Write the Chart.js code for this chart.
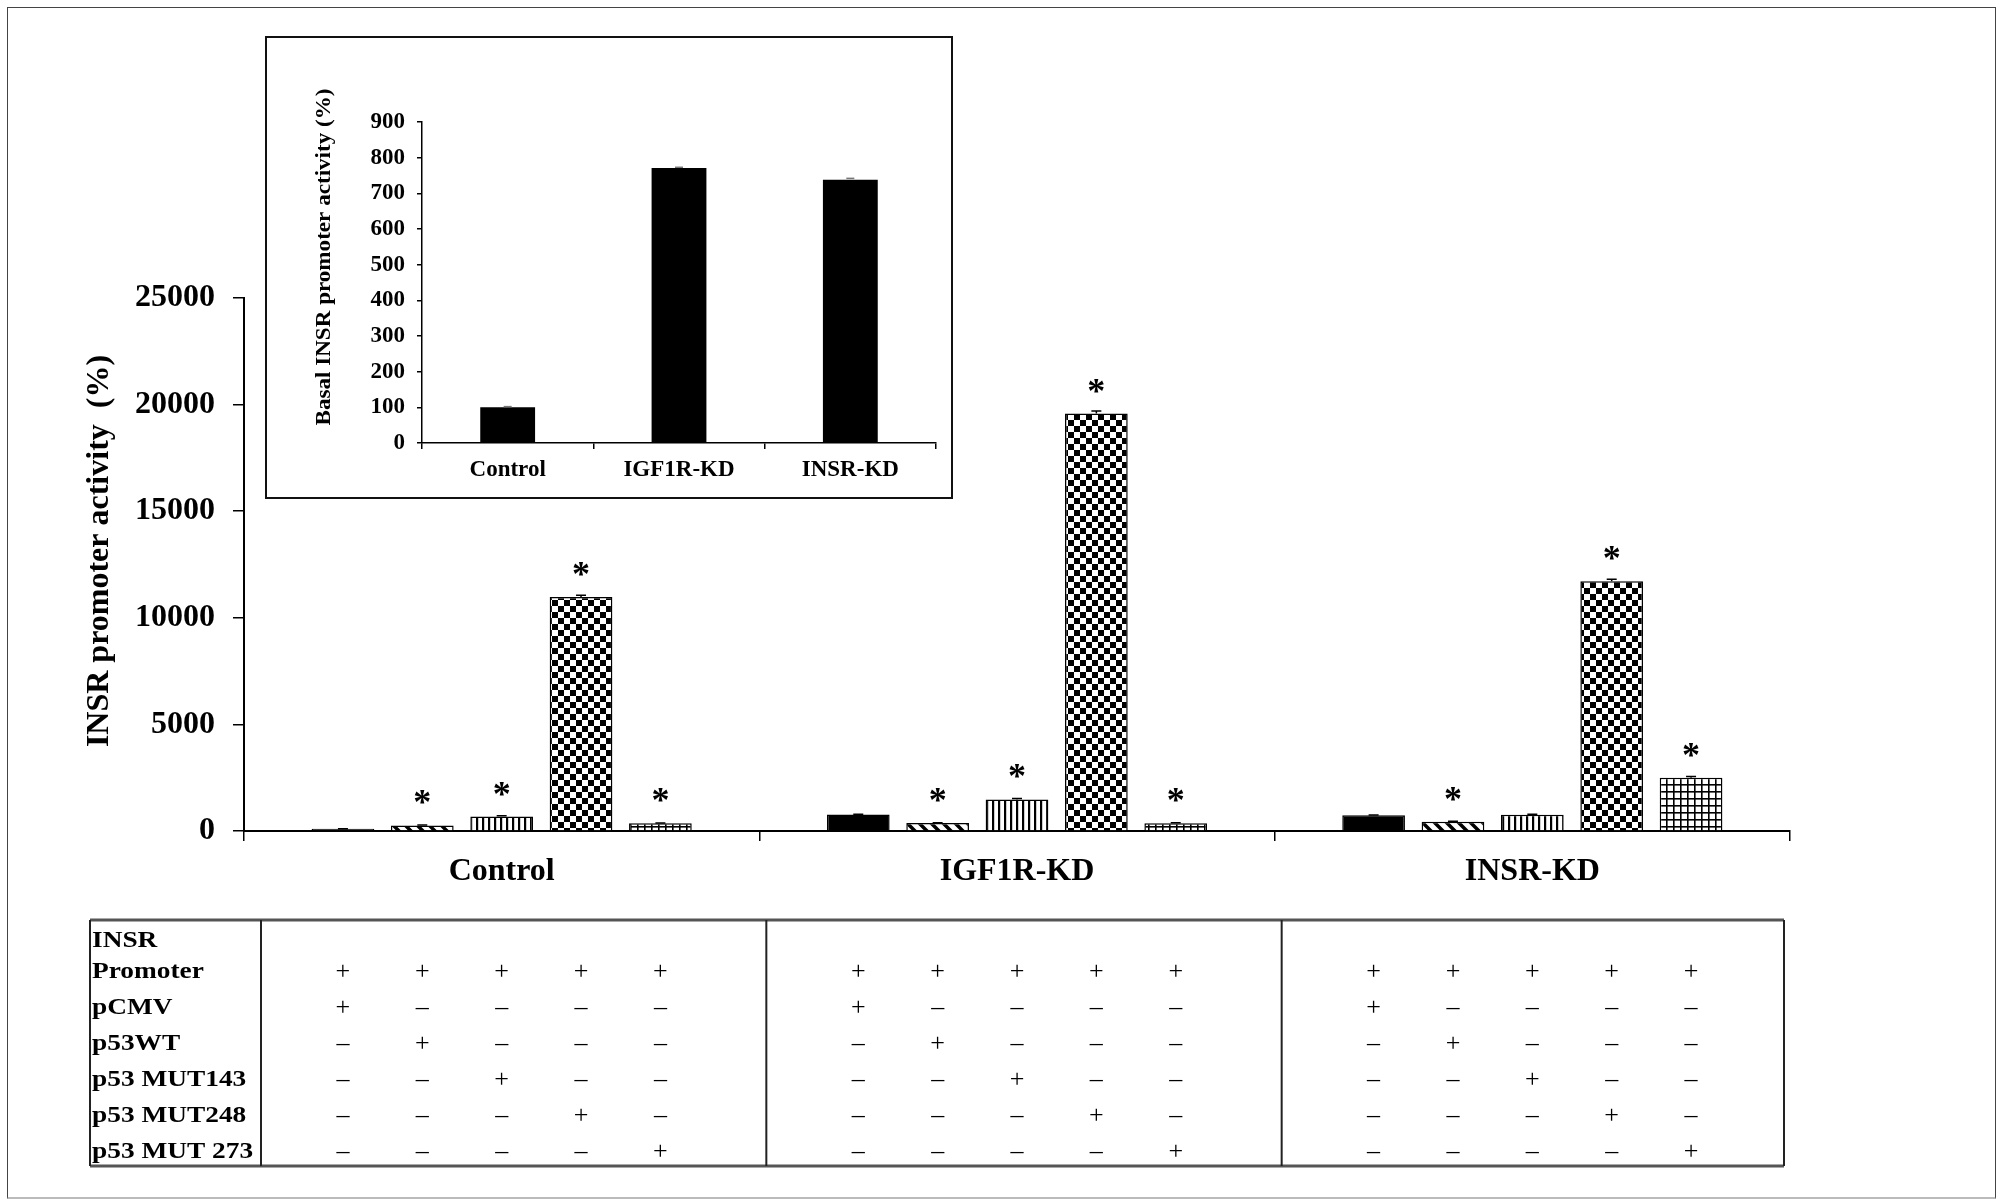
<!DOCTYPE html>
<html>
<head>
<meta charset="utf-8">
<script src="https://cdn.jsdelivr.net/npm/chart.js@4.4.1/dist/chart.umd.min.js"></script>
<style>
  body { margin: 0; background: #fff; }
  #frame { position: absolute; left: 7px; top: 7px; width: 1987px; height: 1189px;
           border: 1.5px solid #444; border-bottom: 2px solid #bbb; }
  #main { position: absolute; left: 0; top: 0; }
  #inset { position: absolute; left: 265px; top: 36px; }
</style>
</head>
<body>
<div id="frame"></div>
<canvas id="main" width="2000" height="1202"></canvas>
<canvas id="inset" width="688" height="463"></canvas>
<script>
// groups on the x axis
var groups = ["Control", "IGF1R-KD", "INSR-KD"]

// INSR promoter activity (%), one array per construct
var pCMV   = [100, 770, 740]
var p53WT  = [260, 370, 430]
var mut143 = [680, 1480, 760]
var mut248 = [10980, 19580, 11720]
var mut273 = [360, 360, 2500]

// error (SD) per bar
var errPCMV   = [5, 15, 15]
var errWT     = [20, 20, 25]
var err143    = [30, 40, 30]
var err248    = [80, 120, 90]
var err273    = [20, 25, 60]

// significance stars
var starPCMV = [false, false, false]
var starWT   = [true, true, true]
var star143  = [true, true, false]
var star248  = [true, true, true]
var star273  = [true, true, true]

var yTicksMax = 25000
var yTicksStep = 5000

// table rows below the chart
var tableRows = ["pCMV", "p53WT", "p53 MUT143", "p53 MUT248", "p53 MUT 273"]

// inset: basal promoter activity
var basalLabels = ["Control", "IGF1R-KD", "INSR-KD"]
var basal = [100, 771, 738]
var basalErr = [2, 2, 4]

var SERIF = "'Liberation Serif', 'DejaVu Serif', serif"

// hatch fills like the old excel patterns
function makeFill(kind) {
  if (kind === "solid") return "#000"
  var c = document.createElement("canvas")
  var g = c.getContext("2d")
  var s
  if (kind === "diag") {
    s = 12
    c.width = s; c.height = s
    g.fillStyle = "#fff"; g.fillRect(0, 0, s, s)
    g.strokeStyle = "#000"; g.lineWidth = 3.5
    g.beginPath()
    g.moveTo(-2, -2); g.lineTo(s + 2, s + 2)
    g.moveTo(-2, s - 2); g.lineTo(2, s + 2)
    g.moveTo(s - 2, -2); g.lineTo(s + 2, 2)
    g.stroke()
  } else if (kind === "vert") {
    s = 6
    c.width = s; c.height = s
    g.fillStyle = "#fff"; g.fillRect(0, 0, s, s)
    g.fillStyle = "#000"; g.fillRect(2, 0, 2.2, s)
  } else if (kind === "check") {
    s = 12
    c.width = s; c.height = s
    g.fillStyle = "#fff"; g.fillRect(0, 0, s, s)
    g.fillStyle = "#000"
    g.fillRect(0, 0, 6, 6)
    g.fillRect(6, 6, 6, 6)
  } else if (kind === "grid") {
    s = 7
    c.width = s; c.height = s
    g.fillStyle = "#fff"; g.fillRect(0, 0, s, s)
    g.fillStyle = "#000"
    g.fillRect(0, 0, s, 1.6)
    g.fillRect(0, 0, 1.6, s)
  }
  var ctx = document.getElementById("main").getContext("2d")
  return ctx.createPattern(c, "repeat")
}

var series = [
  { label: "pCMV", data: pCMV, err: errPCMV, stars: starPCMV, fill: "solid" },
  { label: "p53WT", data: p53WT, err: errWT, stars: starWT, fill: "diag" },
  { label: "p53 MUT143", data: mut143, err: err143, stars: star143, fill: "vert" },
  { label: "p53 MUT248", data: mut248, err: err248, stars: star248, fill: "check" },
  { label: "p53 MUT 273", data: mut273, err: err273, stars: star273, fill: "grid" },
]

var datasets = series.map(function(s) {
  return {
    label: s.label,
    data: s.data,
    err: s.err,
    stars: s.stars,
    backgroundColor: makeFill(s.fill),
    borderColor: "#000",
    borderWidth: 1.5,
    categoryPercentage: 0.77,
    barPercentage: 0.79,
  }
})

// error bars + asterisks on top of the bars
var barExtras = {
  id: "barExtras",
  afterDatasetsDraw: function(chart) {
    var ctx = chart.ctx
    var y = chart.scales.y
    ctx.save()
    chart.data.datasets.forEach(function(ds, d) {
      var meta = chart.getDatasetMeta(d)
      meta.data.forEach(function(bar, i) {
        var v = ds.data[i]
        var top = y.getPixelForValue(v)
        if (ds.err) {
          var e = y.getPixelForValue(v + ds.err[i])
          ctx.strokeStyle = "#000"
          ctx.lineWidth = 1.5
          ctx.beginPath()
          ctx.moveTo(bar.x, top); ctx.lineTo(bar.x, e)
          ctx.moveTo(bar.x - 5, e); ctx.lineTo(bar.x + 5, e)
          ctx.stroke()
        }
        if (ds.stars && ds.stars[i]) {
          ctx.fillStyle = "#000"
          ctx.font = "bold 36px " + SERIF
          ctx.textAlign = "center"
          ctx.textBaseline = "alphabetic"
          ctx.fillText("*", bar.x, top - 28 + 17)
        }
      })
    })
    ctx.restore()
  },
  afterDraw: function(chart) {
    var ctx = chart.ctx
    var x = chart.scales.x
    ctx.save()
    // y axis title
    ctx.translate(100, 551)
    ctx.rotate(-Math.PI / 2)
    ctx.fillStyle = "#000"
    ctx.font = "bold 32px " + SERIF
    ctx.textAlign = "center"
    ctx.textBaseline = "middle"
    ctx.fillText("INSR promoter activity  (%)", 0, 0)
    ctx.restore()

    // construct table
    var tTop = 920, tBot = 1166, tLeft = 90, tCol = 261
    var w = (x.right - x.left) / groups.length
    var tRight = x.right - 6
    ctx.save()
    ctx.strokeStyle = "#555"
    ctx.lineWidth = 3
    ctx.beginPath()
    ctx.moveTo(tLeft, tTop); ctx.lineTo(tRight, tTop)
    ctx.moveTo(tLeft, tBot); ctx.lineTo(tRight, tBot)
    ctx.stroke()
    ctx.strokeStyle = "#222"
    ctx.lineWidth = 2
    ctx.beginPath()
    ctx.moveTo(tLeft, tTop); ctx.lineTo(tLeft, tBot)
    ctx.moveTo(tCol, tTop); ctx.lineTo(tCol, tBot)
    for (var k = 1; k < groups.length; k++) {
      var bx = x.left + k * w + 7
      ctx.moveTo(bx, tTop); ctx.lineTo(bx, tBot)
    }
    ctx.moveTo(tRight, tTop); ctx.lineTo(tRight, tBot)
    ctx.stroke()

    ctx.fillStyle = "#000"
    ctx.textBaseline = "middle"
    ctx.textAlign = "left"
    ctx.font = "bold 24px " + SERIF
    var rowY = [1008, 1044, 1080, 1116, 1152]
    // the labels in the figure are a bit wider than the font
    ctx.save()
    ctx.translate(92, 0)
    ctx.scale(1.14, 1)
    ctx.fillText("INSR", 0, 941)
    ctx.fillText("Promoter", 0, 972)
    tableRows.forEach(function(r, j) { ctx.fillText(r, 0, rowY[j]) })
    ctx.restore()

    ctx.font = "26px " + SERIF
    ctx.textAlign = "center"
    chart.data.datasets.forEach(function(ds, d) {
      var meta = chart.getDatasetMeta(d)
      meta.data.forEach(function(bar) {
        ctx.fillText("+", bar.x, 972)
        rowY.forEach(function(ry, j) {
          ctx.fillText(j === d ? "+" : "\u2013", bar.x, ry)
        })
      })
    })
    ctx.restore()
  },
}

new Chart(document.getElementById("main"), {
  type: "bar",
  data: { labels: groups, datasets: datasets },
  options: {
    responsive: false,
    animation: false,
    devicePixelRatio: 1,
    layout: { padding: { top: 298, right: 210, bottom: 311, left: 0 } },
    plugins: { legend: { display: false }, tooltip: { enabled: false } },
    scales: {
      x: {
        afterFit: function(s) { s.height = 60 },
        grid: { drawOnChartArea: false, offset: true, tickLength: 10, color: "#000", lineWidth: 1.5 },
        border: { color: "#000", width: 2 },
        ticks: { color: "#000", padding: 12, font: { family: SERIF, size: 32, weight: "bold" } },
      },
      y: {
        min: 0,
        max: yTicksMax,
        afterFit: function(s) { s.width = 244 },
        grid: { drawOnChartArea: false, tickLength: 11, color: "#000", lineWidth: 1.5 },
        border: { color: "#000", width: 2 },
        ticks: {
          stepSize: yTicksStep, color: "#000", padding: 18,
          font: { family: SERIF, size: 32, weight: "bold" },
          callback: function(v) { return String(v) },
        },
      },
    },
  },
  plugins: [barExtras],
})

// inset chart
var insetFrame = {
  id: "insetFrame",
  beforeDraw: function(chart) {
    var ctx = chart.ctx
    ctx.save()
    ctx.fillStyle = "#fff"
    ctx.fillRect(0, 0, chart.width, chart.height)
    ctx.restore()
  },
  afterDraw: function(chart) {
    var ctx = chart.ctx
    ctx.save()
    ctx.strokeStyle = "#111"
    ctx.lineWidth = 2
    ctx.strokeRect(1, 1, chart.width - 2, chart.height - 2)
    ctx.translate(60, 221)
    ctx.rotate(-Math.PI / 2)
    ctx.fillStyle = "#000"
    ctx.font = "bold 21px " + SERIF
    ctx.textAlign = "center"
    ctx.textBaseline = "middle"
    ctx.scale(1.1, 1)
    ctx.fillText("Basal INSR promoter activity (%)", 0, 0)
    ctx.restore()
  },
}

new Chart(document.getElementById("inset"), {
  type: "bar",
  data: {
    labels: basalLabels,
    datasets: [{
      data: basal,
      err: basalErr,
      backgroundColor: "#000",
      borderColor: "#000",
      borderWidth: 0,
      categoryPercentage: 0.8,
      barPercentage: 0.4,
    }],
  },
  options: {
    responsive: false,
    animation: false,
    devicePixelRatio: 1,
    layout: { padding: { top: 86, right: 17, bottom: 16, left: 0 } },
    plugins: { legend: { display: false }, tooltip: { enabled: false } },
    scales: {
      x: {
        afterFit: function(s) { s.height = 40 },
        grid: { drawOnChartArea: false, offset: true, tickLength: 6, color: "#000", lineWidth: 1.5 },
        border: { color: "#000", width: 1.5 },
        ticks: { color: "#000", padding: 7, font: { family: SERIF, size: 23, weight: "bold" } },
      },
      y: {
        min: 0,
        max: 900,
        afterFit: function(s) { s.width = 157 },
        grid: { drawOnChartArea: false, tickLength: 5, color: "#000", lineWidth: 1.5 },
        border: { color: "#000", width: 1.5 },
        ticks: { stepSize: 100, color: "#000", padding: 12, font: { family: SERIF, size: 23, weight: "bold" } },
      },
    },
  },
  plugins: [insetFrame, {
    id: "insetErr",
    afterDatasetsDraw: function(chart) {
      var ctx = chart.ctx, y = chart.scales.y
      var ds = chart.data.datasets[0]
      ctx.save()
      ctx.strokeStyle = "#777"
      ctx.lineWidth = 1.5
      chart.getDatasetMeta(0).data.forEach(function(bar, i) {
        var e = y.getPixelForValue(ds.data[i] + ds.err[i])
        ctx.beginPath()
        ctx.moveTo(bar.x - 4, e); ctx.lineTo(bar.x + 4, e)
        ctx.stroke()
      })
      ctx.restore()
    },
  }],
})
</script>
</body>
</html>
